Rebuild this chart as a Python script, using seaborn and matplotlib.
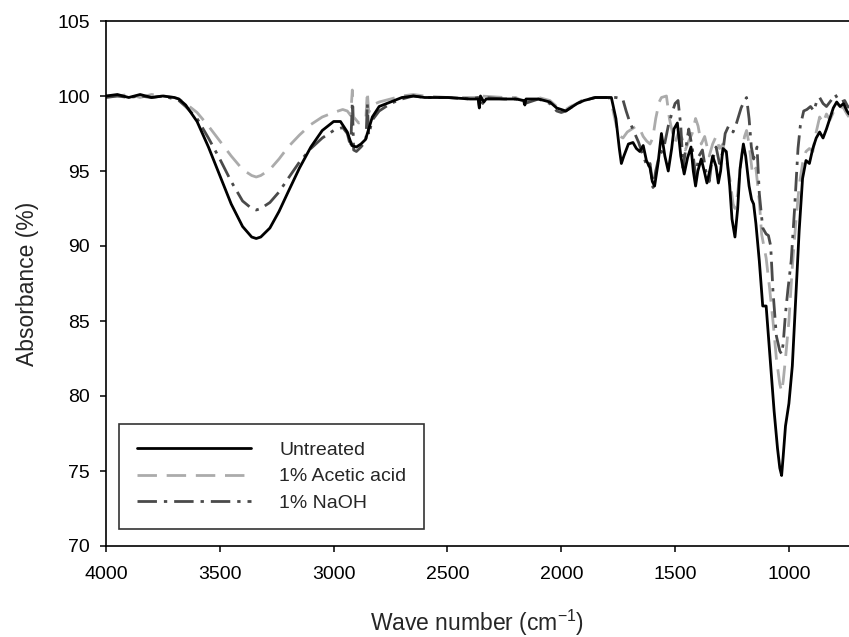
import numpy as np
import pandas as pd
import matplotlib
matplotlib.use("Agg")
import matplotlib.pyplot as plt
import seaborn as sns

# ---------------- data ----------------
series_names = ["Untreated", "1% Acetic acid", "1% NaOH"]

wn_untreated = [4000, 3950, 3900, 3850, 3800, 3750, 3700, 3680, 3650, 3600, 3550, 3500, 3450, 3400,
                3360, 3340, 3320, 3280, 3240, 3200, 3150, 3100, 3050, 3000, 2970, 2940, 2920, 2900,
                2880, 2860, 2850, 2830, 2800, 2750, 2700, 2650, 2600, 2500, 2400, 2365, 2360, 2355,
                2340, 2330, 2250, 2200, 2165, 2160, 2155, 2100, 2050, 2020, 2000, 1980, 1960, 1930,
                1900, 1850, 1800, 1780, 1760, 1745, 1736, 1725, 1705, 1685, 1670, 1655, 1640, 1626,
                1610, 1600, 1590, 1575, 1560, 1545, 1530, 1515, 1505, 1490, 1475, 1460, 1445, 1430,
                1420, 1410, 1400, 1385, 1372, 1360, 1345, 1335, 1320, 1310, 1300, 1290, 1275, 1260,
                1250, 1237, 1225, 1215, 1200, 1190, 1175, 1164, 1155, 1145, 1130, 1115, 1100, 1085,
                1065, 1050, 1040, 1032, 1025, 1015, 1000, 985, 970, 955, 940, 925, 910, 895, 880,
                865, 850, 835, 820, 805, 790, 775, 760, 745, 736]
abs_untreated = [100.0, 100.1, 99.9, 100.1, 99.9, 100.0, 99.9, 99.8, 99.4, 98.3, 96.6, 94.7, 92.8, 91.3,
                 90.6, 90.5, 90.6, 91.2, 92.3, 93.6, 95.2, 96.6, 97.7, 98.3, 98.3, 97.6, 96.7, 96.6,
                 96.8, 97.1, 97.6, 98.6, 99.3, 99.6, 99.9, 100.0, 99.9, 99.9, 99.8, 99.8, 99.2, 100.0,
                 99.6, 99.8, 99.8, 99.8, 99.7, 99.4, 99.8, 99.8, 99.6, 99.2, 99.1, 99.0, 99.2, 99.5,
                 99.7, 99.9, 99.9, 99.9, 98.5, 96.5, 95.5, 96.0, 96.8, 96.9, 96.5, 96.3, 96.7, 95.7,
                 95.2, 94.3, 94.0, 95.5, 97.5, 96.0, 95.0, 96.5, 97.8, 98.2, 96.0, 94.8, 95.9, 96.6,
                 95.0, 94.0, 95.0, 95.8, 95.0, 94.2, 95.2, 96.0, 95.3, 94.2, 95.0, 96.5, 96.3, 94.0,
                 91.8, 90.6, 92.5, 95.1, 96.8, 96.0, 94.0, 93.1, 92.8, 91.5, 89.0, 86.0, 86.0, 83.0,
                 79.0, 76.5, 75.2, 74.7, 76.0, 78.0, 79.5, 82.0, 86.5, 91.0, 94.5, 95.7, 95.5, 96.5, 97.2,
                 97.6, 97.2, 97.8, 98.5, 99.2, 99.6, 99.3, 99.5, 99.0, 98.8]

wn_acetic = [4000, 3950, 3900, 3850, 3800, 3750, 3700, 3680, 3650, 3600, 3550, 3500, 3450, 3400,
             3360, 3340, 3320, 3280, 3240, 3200, 3150, 3100, 3050, 3000, 2960, 2940, 2925, 2918,
             2912, 2890, 2870, 2858, 2852, 2846, 2830, 2800, 2750, 2700, 2650, 2600, 2500, 2400,
             2365, 2360, 2355, 2250, 2200, 2160, 2100, 2050, 2020, 2000, 1980, 1960, 1930, 1900,
             1850, 1800, 1790, 1775, 1758, 1740, 1729, 1710, 1690, 1670, 1655, 1640, 1625, 1610,
             1598, 1585, 1570, 1560, 1538, 1525, 1515, 1500, 1485, 1470, 1455, 1440, 1425, 1410,
             1399, 1385, 1370, 1350, 1335, 1320, 1305, 1290, 1275, 1260, 1245, 1237, 1225, 1210,
             1195, 1186, 1175, 1160, 1145, 1130, 1120, 1110, 1100, 1085, 1070, 1055, 1040, 1032,
             1025, 1015, 1000, 985, 970, 955, 940, 925, 910, 895, 880, 865, 850, 835, 820, 805,
             790, 775, 760, 745, 736]
abs_acetic = [100.0, 100.0, 100.1, 99.9, 100.1, 100.0, 99.9, 99.8, 99.5, 98.9, 98.0, 97.0, 96.0, 95.1,
              94.7, 94.6, 94.7, 95.1, 95.8, 96.6, 97.4, 98.1, 98.6, 98.9, 99.1, 99.0, 98.7, 100.4,
              98.6, 98.2, 98.3, 98.6, 100.3, 98.9, 99.4, 99.6, 99.8, 100.0, 100.1, 100.0, 99.9, 99.9,
              99.9, 99.6, 100.0, 99.9, 99.9, 99.6, 99.9, 99.7, 99.3, 99.2, 99.1, 99.3, 99.5, 99.8,
              99.9, 99.9, 99.9, 99.2, 98.0, 97.3, 97.2, 97.6, 97.8, 98.0, 97.8, 97.3, 97.0, 96.8,
              97.2, 98.5, 99.6, 99.9, 100.0, 98.5, 97.8, 96.9, 97.6, 97.2, 96.4, 97.0, 97.5, 98.5,
              98.0, 96.8, 97.3, 96.0, 96.8, 97.3, 96.5, 96.8, 95.8, 94.5, 92.8, 92.5, 93.5, 95.8,
              97.3, 97.7, 96.8, 94.8, 95.2, 93.0, 90.8, 90.0, 89.2, 87.2, 85.0, 82.5, 80.8, 80.3,
              81.0, 82.5, 85.0, 88.6, 91.5, 94.0, 95.5, 96.3, 96.5, 96.3, 97.6, 98.6, 98.2, 98.8, 98.4, 98.9,
              99.5, 99.3, 99.2, 98.8, 98.6]

wn_naoh = [4000, 3950, 3900, 3850, 3800, 3750, 3700, 3680, 3650, 3600, 3550, 3500, 3450, 3400,
           3360, 3340, 3320, 3280, 3240, 3200, 3150, 3100, 3050, 3000, 2960, 2940, 2925, 2918,
           2912, 2900, 2880, 2858, 2852, 2846, 2830, 2800, 2750, 2700, 2650, 2600, 2500, 2400,
           2365, 2360, 2355, 2345, 2335, 2250, 2200, 2160, 2100, 2050, 2020, 2000, 1980, 1960,
           1930, 1900, 1850, 1800, 1760, 1730, 1715, 1700, 1680, 1660, 1640, 1620, 1610, 1597,
           1585, 1570, 1550, 1530, 1515, 1500, 1487, 1475, 1465, 1450, 1440, 1425, 1410, 1395,
           1380, 1365, 1350, 1340, 1320, 1305, 1290, 1280, 1265, 1245, 1230, 1210, 1195, 1186,
           1175, 1165, 1155, 1145, 1140, 1130, 1115, 1100, 1090, 1080, 1070, 1055, 1040, 1032,
           1025, 1015, 1005, 990, 975, 960, 950, 935, 921, 905, 890, 877, 865, 850, 835, 820,
           805, 797, 785, 770, 755, 745, 736]
abs_naoh = [99.9, 100.0, 99.9, 100.0, 99.9, 100.0, 99.8, 99.7, 99.3, 98.5, 97.2, 95.8, 94.3, 93.0,
            92.5, 92.4, 92.5, 92.9, 93.6, 94.5, 95.6, 96.5, 97.2, 97.7, 97.9, 97.5, 96.6, 99.6,
            96.4, 96.3, 96.6, 97.0, 99.5, 97.4, 98.4, 99.0, 99.5, 99.8, 100.0, 99.9, 99.9, 99.8,
            99.9, 99.3, 99.9, 99.5, 99.9, 99.8, 99.8, 99.5, 99.8, 99.5, 99.0, 98.9, 99.0, 99.2,
            99.5, 99.7, 99.9, 99.9, 99.9, 99.8, 99.0, 98.3, 97.6, 96.9, 96.0, 95.2, 95.5, 93.9,
            95.0, 96.0, 96.5, 98.0, 98.8, 99.5, 99.7, 98.0, 95.2, 96.8, 97.8, 96.6, 94.7, 96.0,
            96.4, 95.0, 94.3, 95.5, 96.6, 95.5, 96.3, 97.5, 98.0, 97.6, 98.2, 99.2, 99.7, 99.9,
            98.5, 96.6, 95.8, 96.3, 96.6, 93.5, 91.2, 90.8, 90.7, 90.0, 87.0, 84.0, 83.0, 82.8,
            83.5, 85.5, 87.0, 89.0, 92.5, 96.5, 98.0, 99.0, 99.1, 99.3, 99.0, 99.7, 99.9, 99.5,
            99.3, 99.6, 99.9, 100.1, 99.8, 99.6, 99.7, 99.4, 99.2]

x_ticks = [4000, 3500, 3000, 2500, 2000, 1500, 1000]
y_ticks = [70, 75, 80, 85, 90, 95, 100, 105]

# ---------------- build table ----------------
frames = []
for name, wn, ab in zip(series_names,
                        [wn_untreated, wn_acetic, wn_naoh],
                        [abs_untreated, abs_acetic, abs_naoh]):
    frames.append(pd.DataFrame({"wn": wn, "abs": ab, "sample": name}))
df = pd.concat(frames, ignore_index=True)

# ---------------- style ----------------
sns.set_style("ticks")
plt.rcParams["font.family"] = ["Liberation Sans", "DejaVu Sans"]
plt.rcParams["mathtext.default"] = "regular"

fig = plt.figure(figsize=(8.49, 6.37), dpi=100)
W, H = 849, 637
ax = fig.add_axes([106 / W, 91 / H, 743 / W, 525 / H])

styles = {
    "Untreated": dict(color="#000000", lw=2.0, dashes=None),
    "1% Acetic acid": dict(color="#ababab", lw=2.0, dashes=(7, 3.5)),
    "1% NaOH": dict(color="#4a4a4a", lw=2.0, dashes=(7, 2.5, 1.2, 2.5)),
}
draw_order = ["1% Acetic acid", "1% NaOH", "Untreated"]
handles = {}
for name in draw_order:
    st = styles[name]
    sub = df[df["sample"] == name]
    sns.lineplot(data=sub, x="wn", y="abs", ax=ax, sort=False, estimator=None,
                 color=st["color"], lw=st["lw"], label=name, legend=False)
    line = ax.lines[-1]
    if st["dashes"] is not None:
        line.set_dashes(st["dashes"])
    handles[name] = line

ax.set_xlim(4000, 736)
ax.set_ylim(70, 105)
ax.set_xticks(x_ticks)
ax.set_yticks(y_ticks)
ax.tick_params(direction="out", length=4.5, width=1.1, labelsize=14, colors="black")
ax.tick_params(axis="x", pad=10)
ax.tick_params(axis="y", pad=7)
for s in ["left", "bottom", "top"]:
    ax.spines[s].set_visible(True)
    ax.spines[s].set_linewidth(1.2)
    ax.spines[s].set_color("black")
ax.spines["right"].set_visible(False)

ax.set_xlabel("Wave number (cm$^{-1}$)", fontsize=16.5, labelpad=18)
ax.set_ylabel("Absorbance (%)", fontsize=16.5, labelpad=13)

leg = ax.legend([handles[n] for n in series_names], series_names,
                loc="lower left", bbox_to_anchor=(0.0175, 0.032), borderaxespad=0,
                fontsize=14, frameon=True, fancybox=False, edgecolor="black",
                handlelength=5.9, handletextpad=1.45, labelspacing=0.45,
                borderpad=0.9)
leg.get_frame().set_linewidth(1.2)

fig.savefig("out.png", dpi=100, facecolor="white")
